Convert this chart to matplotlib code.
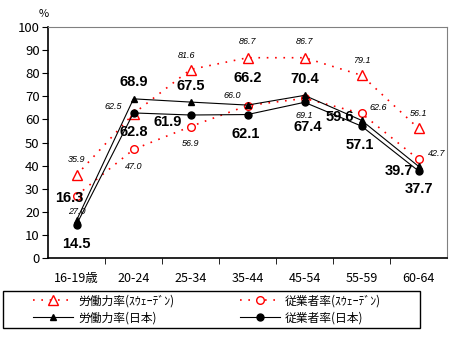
import matplotlib
matplotlib.use("Agg")
import matplotlib.pyplot as plt
from matplotlib.patches import Rectangle

plt.rcParams['font.family'] = ['Noto Sans CJK JP', 'DejaVu Sans']

ages = ['16-19歳', '20-24', '25-34', '35-44', '45-54', '55-59', '60-64']
lfpr_se = [35.9, 62.5, 81.6, 86.7, 86.7, 79.1, 56.1]
emp_se = [27.0, 47.0, 56.9, 66.0, 69.1, 62.6, 42.7]
lfpr_jp = [16.3, 68.9, 67.5, 66.2, 70.4, 59.6, 39.7]
emp_jp = [14.5, 62.8, 61.9, 62.1, 67.4, 57.1, 37.7]

# label offsets in pixels (dx, dy)
off_lfpr_se = [(0, 16), (-20, 7), (-4, 14), (0, 16), (0, 16), (0, 15), (0, 15)]
off_emp_se = [(0, -16), (0, -17), (0, -17), (-15, 10), (0, -17), (17, 6), (18, 6)]
off_lfpr_jp = [(-7, 22), (0, 17), (0, 16), (0, 27), (0, 16), (-22, 3), (-20, -5)]
off_emp_jp = [(0, -19), (0, -19), (-23, -7), (-2, -19), (3, -25), (-2, -19), (0, -18)]

fig = plt.figure(figsize=(4.54, 3.38), dpi=100)
ax = fig.add_axes([48 / 454, 80 / 338, 399 / 454, 231 / 338])
x = list(range(len(ages)))

red = '#ff0000'
dots = (0, (1, 4))
l1, = ax.plot(x, lfpr_se, color=red, lw=1.2, ls=dots, marker='^', ms=7,
              mfc='white', mec=red, mew=1, label='労働力率(ｽｳｪｰﾃﾞﾝ)')
l2, = ax.plot(x, emp_se, color=red, lw=1.2, ls=dots, marker='o', ms=5.5,
              mfc='white', mec=red, mew=1, label='従業者率(ｽｳｪｰﾃﾞﾝ)')
l3, = ax.plot(x, lfpr_jp, color='black', lw=0.8, marker='^', ms=5,
              label='労働力率(日本)')
l4, = ax.plot(x, emp_jp, color='black', lw=0.8, marker='o', ms=5,
              label='従業者率(日本)')

small = dict(fontsize=6.5, style='italic', family='Liberation Sans',
             ha='center', va='center', textcoords='offset pixels')
big = dict(fontsize=10.5, weight='bold', family='Liberation Sans',
           ha='center', va='center', textcoords='offset pixels')
for i in x:
    ax.annotate(f'{lfpr_se[i]:.1f}', (i, lfpr_se[i]), xytext=off_lfpr_se[i], **small)
    ax.annotate(f'{emp_se[i]:.1f}', (i, emp_se[i]), xytext=off_emp_se[i], **small)
    ax.annotate(f'{lfpr_jp[i]:.1f}', (i, lfpr_jp[i]), xytext=off_lfpr_jp[i], **big)
    ax.annotate(f'{emp_jp[i]:.1f}', (i, emp_jp[i]), xytext=off_emp_jp[i], **big)

ax.set_xlim(-0.5, 6.5)
ax.set_ylim(0, 100)
ax.set_yticks(range(0, 101, 10))
ax.set_xticks(x)
ax.set_xticklabels(ages)
ax.set_xticks([i + 0.5 for i in range(6)], minor=True)
ax.tick_params(axis='x', which='major', length=0, pad=10, labelsize=9)
ax.tick_params(axis='x', which='minor', length=4, direction='out')
ax.tick_params(axis='y', length=4, direction='out', pad=2, labelsize=9.5)

for s in ['top', 'right']:
    ax.spines[s].set_color('#808080')
for s in ['left', 'bottom']:
    ax.spines[s].set_color('black')
    ax.spines[s].set_linewidth(1.2)

fig.text(44 / 454, 1 - 14 / 338, '%', fontsize=8, ha='center', va='center')

# legend box
fig.patches.append(Rectangle((3 / 454, 10 / 338), 417 / 454, 37 / 338,
                             transform=fig.transFigure, fill=False,
                             edgecolor='black', lw=1))
fig.legend([l1, l3, l2, l4], [h.get_label() for h in (l1, l3, l2, l4)],
           loc='center left', bbox_to_anchor=(33 / 454, 28.5 / 338),
           ncol=2, fontsize=8.5, handlelength=3.4, frameon=False,
           borderaxespad=0, borderpad=0, labelspacing=0.35,
           handletextpad=0.45, columnspacing=5.5)

fig.savefig('out.png', dpi=100)
